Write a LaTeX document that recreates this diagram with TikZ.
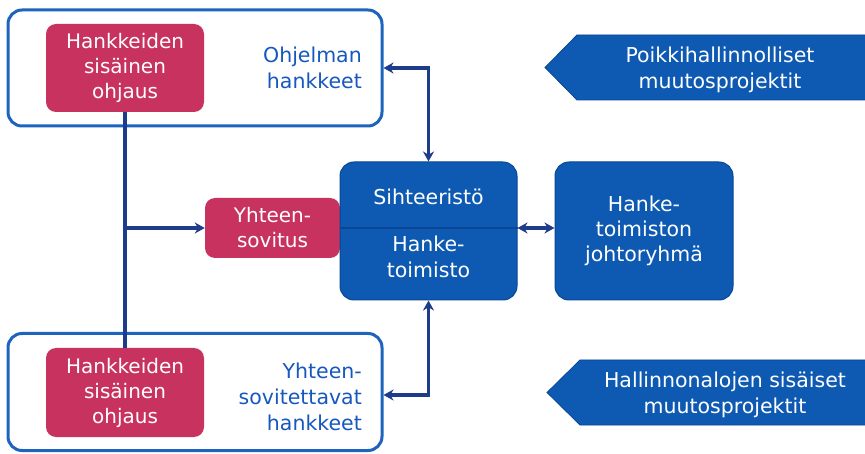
\documentclass[tikz,border=0pt]{standalone}
\usepackage{fontspec}
\setmainfont{DejaVu Sans}
\usetikzlibrary{arrows.meta}
\definecolor{pinkc}{RGB}{200,50,95}
\definecolor{bluef}{RGB}{14,90,178}
\definecolor{blued}{RGB}{10,70,150}
\definecolor{bluet}{RGB}{22,88,190}
\definecolor{navy}{RGB}{30,60,140}
\definecolor{framec}{RGB}{30,100,190}
\tikzset{
  outerbox/.style={draw=framec,line width=3pt,rounded corners=14pt,fill=white,inner sep=0pt},
  pinkbox/.style={fill=pinkc,rounded corners=10pt,inner sep=0pt,text=white,align=center,font=\fontsize{20}{25}\selectfont},
  bluebox/.style={fill=bluef,draw=blued,line width=1pt,rounded corners=14pt,inner sep=0pt,text=white,align=center,font=\fontsize{20.5}{25}\selectfont},
  bluetext/.style={text=bluet,align=right,inner sep=0pt,font=\fontsize{20.5}{26}\selectfont},
  whitetext/.style={text=white,align=center,inner sep=0pt,font=\fontsize{20.5}{25.5}\selectfont},
  conn/.style={draw=navy,line width=3.8pt},
  tip/.style={-{Stealth[length=10pt,width=11pt]}},
  tips/.style={{Stealth[length=10pt,width=11pt]}-{Stealth[length=10pt,width=11pt]}},
  arrowshape/.style={fill=bluef,draw=blued,line width=0.8pt}
}
\begin{document}
\begin{tikzpicture}[x=1pt,y=-1pt]
\useasboundingbox[fill=white] (0,0) rectangle (865,454);
% outer boxes
\node[outerbox,minimum width=374pt,minimum height=116pt] (topouter) at (195,68) {};
\node[outerbox,minimum width=374pt,minimum height=117pt] (botouter) at (195,392) {};
% pink boxes
\node[pinkbox,minimum width=158pt,minimum height=88pt] (pinktop) at (125,68) {Hankkeiden\\sisäinen\\ohjaus};
\node[pinkbox,minimum width=158pt,minimum height=89pt] (pinkbot) at (125,392.5) {Hankkeiden\\sisäinen\\ohjaus};
% blue texts
\node[bluetext,anchor=east] (ohj) at (362,68) {Ohjelman\\hankkeet};
\node[bluetext,anchor=east] (yht) at (362,397) {Yhteen-\\sovitettavat\\hankkeet};
% yhteensovitus
\node[pinkbox,minimum width=135pt,minimum height=60pt] (sov) at (272.5,228) {Yhteen-\\sovitus};
% center box
\node[bluebox,minimum width=177pt,minimum height=138pt] (center) at (428.5,231) {};
\draw[blued,line width=2.5pt] (center.west |- 0,228) -- (center.east |- 0,228);
\node[whitetext] (siht) at (428.5,197) {Sihteeristö};
\node[whitetext] (hanke) at (428.5,257) {Hanke-\\toimisto};
% right box
\node[bluebox,minimum width=178pt,minimum height=138pt] (right) at (644,231) {Hanke-\\toimiston\\johtoryhmä};
% arrow shapes
\path[arrowshape] (866,35) -- (577,35) -- (545,67.5) -- (577,100) -- (866,100) -- cycle;
\node[whitetext] (poikki) at (720,70) {Poikkihallinnolliset\\muutosprojektit};
\path[arrowshape] (866,360) -- (580,360) -- (547,392.5) -- (580,425) -- (866,425) -- cycle;
\node[whitetext] (halli) at (725,395) {Hallinnonalojen sisäiset\\muutosprojektit};
% connectors
\coordinate (c1) at (428.5,68);
\coordinate (c2) at (428.5,395);
\coordinate (j) at (125,228);
\draw[conn] (pinktop.south) -- (pinkbot.north);
\draw[conn,tip] (j) -- (sov.west);
\draw[conn,tips] (topouter.east) -- (c1) -- (center.north);
\draw[conn,tips] (center.south) -- (c2) -- (c2 -| botouter.east);
\draw[conn,tips] (center.east |- 0,228) -- (right.west |- 0,228);
\end{tikzpicture}
\end{document}
